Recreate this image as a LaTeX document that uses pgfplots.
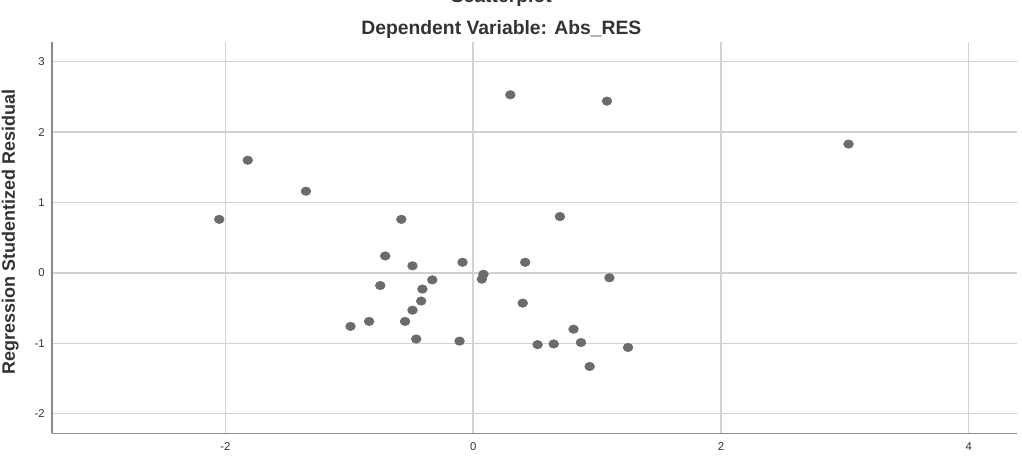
\documentclass[border=0pt]{standalone}
\usepackage{pgfplots}
\pgfplotsset{compat=1.18}
\usepackage{fontspec}
\setmainfont{Liberation Sans}
\definecolor{pt}{HTML}{6B6B6B}
\definecolor{grd}{HTML}{D2D2D2}
\definecolor{axl}{HTML}{8A8A8A}
\definecolor{tl}{HTML}{333333}
\begin{document}
\begin{tikzpicture}
\useasboundingbox (-39pt,-23pt) rectangle (727.5pt,325pt);
\begin{axis}[
  at={(0,0)}, anchor=south west,
  scale only axis, width=723.75pt, height=293.5pt,
  xmin=-3.40, xmax=4.39, ymin=-2.28, ymax=3.28,
  axis lines*=left,
  axis line style={axl, line width=1.1pt},
  xtick={-2,0,2,4}, ytick={-2,-1,0,1,2,3},
  major tick length=0pt,
  grid=major,
  major grid style={grd, line width=1.1pt},
  tick label style={font=\fontsize{8.5}{9}\selectfont, text=tl},
  /pgf/number format/assume math mode=true,
  xticklabel style={yshift=-3.5pt},
  yticklabel style={xshift=-2pt},
  clip=false,
]
\addplot[only marks, mark=*, mark size=3.2pt, color=pt, mark options={xscale=1.15, draw=pt, fill=pt}] coordinates {
(-2.05,0.76) (-1.82,1.60) (-1.35,1.16) (-0.58,0.76) (0.30,2.53) (1.08,2.44)
(3.03,1.83) (0.70,0.80)
(-0.71,0.24) (-0.49,0.10) (-0.086,0.15) (0.083,-0.02) (0.07,-0.09)
(0.42,0.15) (1.10,-0.07) (-0.75,-0.18) (-0.33,-0.10) (-0.41,-0.23)
(-0.42,-0.40) (-0.49,-0.53) (-0.84,-0.69) (-0.99,-0.76) (-0.55,-0.69)
(-0.46,-0.94) (-0.11,-0.97) (0.40,-0.43) (0.81,-0.80) (0.52,-1.02)
(0.65,-1.01) (0.87,-0.99) (1.25,-1.06) (0.94,-1.33)
};
\end{axis}
\node[font=\bfseries\fontsize{14.5}{16}\selectfont, text=tl] at (337pt,302.5pt) {Dependent Variable: Abs\_RES};
\node[font=\bfseries\fontsize{14.5}{16}\selectfont, text=tl] at (337pt,326.5pt) {Scatterplot};
\node[font=\bfseries\fontsize{13.5}{15}\selectfont, text=tl, rotate=90] at (-31.3pt,151pt) {Regression Studentized Residual};
\end{tikzpicture}
\end{document}
